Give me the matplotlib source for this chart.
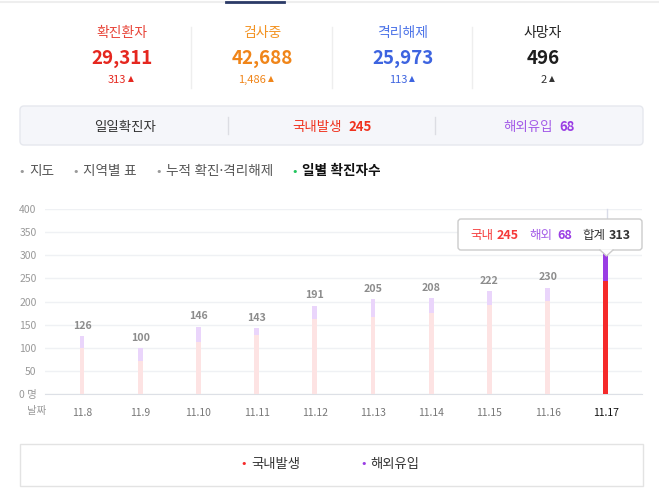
import matplotlib
matplotlib.use('Agg')
import matplotlib.pyplot as plt
from matplotlib.patches import FancyBboxPatch, Polygon
from matplotlib.lines import Line2D

plt.rcParams['font.family'] = ['Noto Sans CJK KR', 'DejaVu Sans']

# data
dates = ['11.8', '11.9', '11.10', '11.11', '11.12', '11.13', '11.14', '11.15', '11.16', '11.17']
domestic = [99, 71, 113, 128, 162, 166, 176, 193, 202, 245]
overseas = [27, 29, 33, 15, 29, 39, 32, 29, 28, 68]
totals = [126, 100, 146, 143, 191, 205, 208, 222, 230, 313]
y_ticks = [0, 50, 100, 150, 200, 250, 300, 350, 400]

stat_titles = ['확진환자', '검사중', '격리해제', '사망자']
stat_values = ['29,311', '42,688', '25,973', '496']
stat_deltas = ['313', '1,486', '113', '2']
stat_colors = ['#e5271f', '#f08519', '#3d64e0', '#1e1e1e']
stat_title_colors = ['#e8463a', '#f39322', '#4d74e8', '#222222']
delta_colors = ['#e5271f', '#f08519', '#3d64e0', '#333333']

tabs = ['지도', '지역별 표', '누적 확진·격리해제', '일별 확진자수']

RED = '#f52a2a'
PURPLE = '#9a3de4'
RED_FADE = '#fde3e3'
PURPLE_FADE = '#ead5fb'

W, H = 659, 488
fig = plt.figure(figsize=(W / 100, H / 100), dpi=100)


def fx(x):
    return x / W


def fy(y):
    return 1 - y / H


def inch(x, y):
    return x / 100, (H - y) / 100


# top tab strip line
fig.add_artist(Line2D([0, 1], [fy(1.5), fy(1.5)], color='#eeeeee', lw=1.5))
fig.add_artist(Line2D([fx(226), fx(284)], [fy(1.5), fy(1.5)], color='#2b3a67', lw=2))

# top stats
centers = [122, 262, 403, 543]
for i, cx in enumerate(centers):
    fig.text(fx(cx), fy(33), stat_titles[i], ha='center', va='center',
             fontsize=10, color=stat_title_colors[i])
    fig.text(fx(cx), fy(59), stat_values[i], ha='center', va='center',
             fontsize=13.5, fontweight='bold', color=stat_colors[i])
    fig.text(fx(cx + 4), fy(80), stat_deltas[i], ha='right', va='center',
             fontsize=8, color=delta_colors[i])
    fig.text(fx(cx + 6), fy(79), '▲', ha='left', va='center',
             fontsize=5.5, color=delta_colors[i], family='DejaVu Sans')
for sx in [191, 332, 472]:
    fig.add_artist(Line2D([fx(sx), fx(sx)], [fy(27), fy(88)], color='#eeeeee', lw=1))

# daily box
x0, y0 = inch(20, 145)
box = FancyBboxPatch((x0, y0), 623 / 100, 39 / 100,
                     boxstyle='round,pad=0,rounding_size=0.04',
                     transform=fig.dpi_scale_trans, facecolor='#f5f6fa',
                     edgecolor='#e6e8ee', lw=1)
fig.add_artist(box)
fig.text(fx(125), fy(127), '일일확진자', ha='center', va='center', fontsize=9.7, color='#333333')
fig.text(fx(342), fy(127), '국내발생', ha='right', va='center', fontsize=9.7, color='#f0321e')
fig.text(fx(348), fy(127), '245', ha='left', va='center', fontsize=9.5,
         fontweight='bold', color='#f0321e')
fig.text(fx(553), fy(127), '해외유입', ha='right', va='center', fontsize=9.7, color='#a35be8')
fig.text(fx(559), fy(127), '68', ha='left', va='center', fontsize=9.5,
         fontweight='bold', color='#9a3de4')
for sx in [228, 435]:
    fig.add_artist(Line2D([fx(sx), fx(sx)], [fy(117), fy(134)], color='#dcdde3', lw=1))

# tabs
tab_dots = [22, 76, 159, 295]
for i, tab in enumerate(tabs):
    active = i == len(tabs) - 1
    fig.text(fx(tab_dots[i]), fy(172), '•', ha='center', va='center', fontsize=8,
             color='#22c55e' if active else '#999999', family='DejaVu Sans')
    fig.text(fx(tab_dots[i] + 7), fy(172), tab, ha='left', va='center', fontsize=9.8,
             color='#111111' if active else '#555555',
             fontweight='bold' if active else 'normal',
             family=['Noto Sans', 'Noto Sans CJK KR'])

# chart
ax = fig.add_axes([fx(45), fy(394.3), fx(642) - fx(45), fy(209) - fy(394.3)])
pos = list(range(len(dates)))
n = len(dates)
dom_colors = [RED_FADE] * (n - 1) + [RED]
ov_colors = [PURPLE_FADE] * (n - 1) + [PURPLE]
bw = 0.085
ax.bar(pos, domestic, width=bw, color=dom_colors, zorder=3)
ax.bar(pos, overseas, width=bw, bottom=domestic, color=ov_colors, zorder=3)
for i in range(n - 1):
    ax.annotate(str(totals[i]), (pos[i], totals[i]), xytext=(0, 7.5),
                textcoords='offset points', ha='center', va='center',
                fontsize=7.7, fontweight='bold', color='#8c8c8c')

ax.set_xlim(-0.636, 9.622)
ax.set_ylim(0, 400)
ax.set_yticks(y_ticks)
ax.set_yticklabels([str(v) if v else '0 명' for v in y_ticks])
ax.set_xticks(pos)
ax.set_xticklabels(dates)
ax.tick_params(axis='y', length=0, pad=6, labelsize=7.5, labelcolor='#999999')
ax.tick_params(axis='x', length=0, pad=10, labelsize=7.5, labelcolor='#777777')
ax.get_xticklabels()[-1].set_color('#111111')
ax.grid(axis='y', color='#eff1f4', lw=1, zorder=0)
for side in ['top', 'right', 'left']:
    ax.spines[side].set_visible(False)
ax.spines['bottom'].set_color('#dde0e6')
ax.set_facecolor('none')
fig.text(fx(37), fy(411), '날짜', ha='center', va='center', fontsize=7.5, color='#999999')

# crosshair + tooltip
fig.add_artist(Line2D([fx(606.5), fx(606.5)], [fy(209), fy(219)], color='#d9dce8', lw=1))
tx, ty = inch(458, 250)
tip = FancyBboxPatch((tx, ty), 184 / 100, 31 / 100,
                     boxstyle='round,pad=0,rounding_size=0.03',
                     transform=fig.dpi_scale_trans, facecolor='white',
                     edgecolor='#cccccc', lw=1, zorder=5)
fig.add_artist(tip)
tri = Polygon([(fx(600), fy(249.3)), (fx(606.5), fy(256)), (fx(613), fy(249.3))],
              closed=True, facecolor='white', edgecolor='none', zorder=6)
fig.add_artist(tri)
fig.add_artist(Line2D([fx(600), fx(606.5), fx(613)], [fy(250), fy(256), fy(250)],
                      color='#cccccc', lw=1, zorder=7))
tip_y = fy(235.5)
tip_parts = [(470, '국내', 'normal', '#f53a3a'), (497, '245', 'bold', '#f53a3a'),
             (529, '해외', 'normal', '#a35be8'), (557, '68', 'bold', '#9a3de4'),
             (582, '합계', 'normal', '#333333'), (609, '313', 'bold', '#333333')]
for px_, s, wt, c in tip_parts:
    fig.text(fx(px_), tip_y, s, ha='left', va='center', fontsize=9,
             fontweight=wt, color=c, zorder=8)

# legend box
lx, ly = inch(20, 486)
lbox = FancyBboxPatch((lx, ly), 623 / 100, 42 / 100, boxstyle='square,pad=0',
                      transform=fig.dpi_scale_trans, facecolor='white',
                      edgecolor='#e3e3e3', lw=1)
fig.add_artist(lbox)
fig.text(fx(244), fy(464), '•', ha='center', va='center', fontsize=8, color=RED, family='DejaVu Sans')
fig.text(fx(251), fy(464), '국내발생', ha='left', va='center', fontsize=9.6, color='#333333')
fig.text(fx(364), fy(464), '•', ha='center', va='center', fontsize=8, color=PURPLE, family='DejaVu Sans')
fig.text(fx(370), fy(464), '해외유입', ha='left', va='center', fontsize=9.6, color='#333333')

fig.savefig('out.png', dpi=100, facecolor='white')
